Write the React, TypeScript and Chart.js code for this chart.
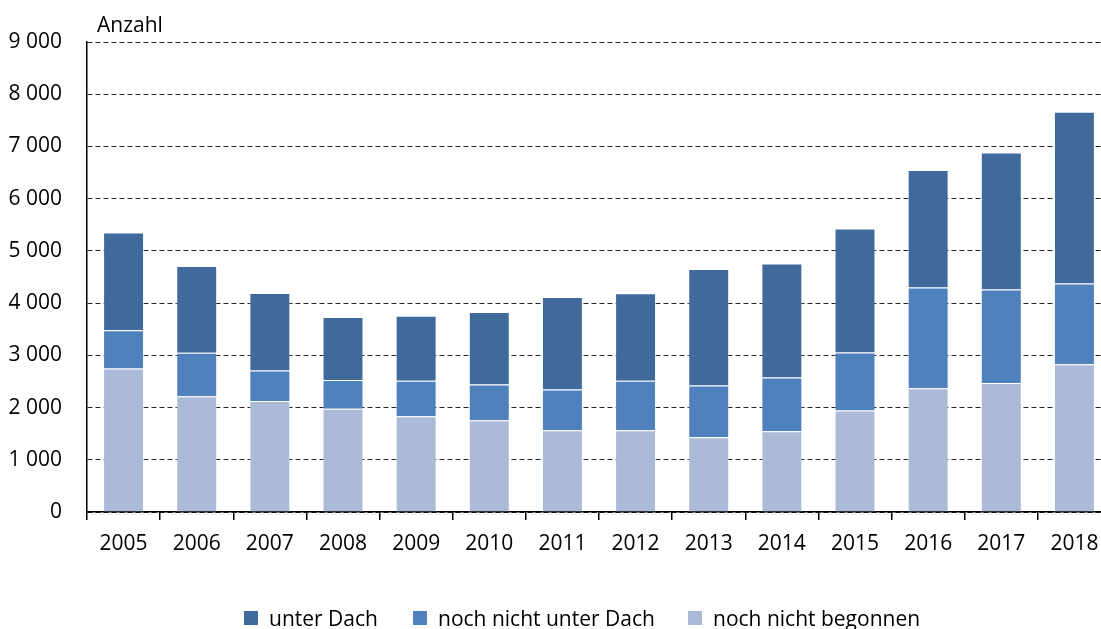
import React, { useEffect, useRef } from "react";
import { Chart, registerables } from "chart.js";

Chart.register(...registerables);

const years = ["2005", "2006", "2007", "2008", "2009", "2010", "2011", "2012", "2013", "2014", "2015", "2016", "2017", "2018"];
const nochNichtBegonnen = [2750, 2215, 2125, 1975, 1835, 1755, 1565, 1565, 1430, 1545, 1945, 2370, 2470, 2830];
const nochNichtUnterDach = [730, 835, 585, 555, 680, 685, 780, 950, 990, 1030, 1110, 1930, 1790, 1545];
const unterDach = [1870, 1660, 1485, 1205, 1245, 1390, 1770, 1675, 2235, 2185, 2375, 2250, 2625, 3290];
const yTicks = [0, 1000, 2000, 3000, 4000, 5000, 6000, 7000, 8000, 9000];

const COLORS = {
  unterDach: "#406a9b",
  nochNichtUnterDach: "#4f81bd",
  nochNichtBegonnen: "#abbad7",
};

const FONT = "'Open Sans', 'Noto Sans', sans-serif";

const legendItems = [
  { label: "unter Dach", color: COLORS.unterDach, left: 244 },
  { label: "noch nicht unter Dach", color: COLORS.nochNichtUnterDach, left: 413 },
  { label: "noch nicht begonnen", color: COLORS.nochNichtBegonnen, left: 688 },
];

const fmt = (v: number) => String(v).replace(/\B(?=(\d{3})+(?!\d))/g, " ");

export default function App() {
  const ref = useRef<HTMLCanvasElement | null>(null);

  useEffect(() => {
    if (!ref.current) return;
    const titlePlugin = {
      id: "anzahl",
      afterDraw(chart: any) {
        const { ctx, chartArea } = chart;
        ctx.save();
        ctx.font = `21px ${FONT}`;
        ctx.fillStyle = "#000";
        ctx.textAlign = "left";
        ctx.textBaseline = "alphabetic";
        ctx.fillText("Anzahl", chartArea.left + 10, chartArea.top - 10);
        ctx.restore();
      },
    };
    const chart = new Chart(ref.current, {
      type: "bar",
      data: {
        labels: years,
        datasets: [
          {
            label: "noch nicht begonnen",
            data: nochNichtBegonnen,
            backgroundColor: COLORS.nochNichtBegonnen,
            borderColor: "rgba(255,255,255,0.35)",
            borderWidth: 1,
          },
          {
            label: "noch nicht unter Dach",
            data: nochNichtUnterDach,
            backgroundColor: COLORS.nochNichtUnterDach,
            borderColor: "rgba(255,255,255,0.35)",
            borderWidth: 1,
          },
          {
            label: "unter Dach",
            data: unterDach,
            backgroundColor: COLORS.unterDach,
            borderColor: "rgba(255,255,255,0.35)",
            borderWidth: 1,
          },
        ],
      },
      options: {
        responsive: false,
        animation: false,
        layout: { padding: { left: 0, right: 4, top: 42, bottom: 0 } },
        datasets: { bar: { categoryPercentage: 1, barPercentage: 0.56 } },
        plugins: { legend: { display: false }, tooltip: { enabled: false } },
        scales: {
          x: {
            stacked: true,
            grid: {
              display: true,
              drawOnChartArea: false,
              drawTicks: true,
              tickLength: 8,
              color: "#000",
              lineWidth: 1.5,
              offset: true,
            },
            border: { display: true, color: "#000", width: 1.5 },
            ticks: { color: "#000", font: { family: FONT, size: 21 }, padding: 11, maxRotation: 0, autoSkip: false },
            afterFit: (s: any) => {
              s.height = 117;
            },
          },
          y: {
            stacked: true,
            min: 0,
            max: 9000,
            afterBuildTicks: (s: any) => {
              s.ticks = yTicks.map((v) => ({ value: v }));
            },
            grid: { color: "#222", lineWidth: 1, drawTicks: false },
            border: { display: true, color: "#000", width: 1.5, dash: [5, 3] },
            ticks: {
              color: "#000",
              font: { family: FONT, size: 21 },
              padding: 25,
              callback: (v: any) => fmt(Number(v)),
            },
            afterFit: (s: any) => {
              s.width = 87;
            },
          },
        },
      },
      plugins: [titlePlugin],
    });
    return () => chart.destroy();
  }, []);

  return (
    <div style={{ position: "fixed", left: 0, top: 0, width: 1101, height: 629, overflow: "hidden", background: "#fff" }}>
      <canvas ref={ref} width={1115} height={629} style={{ position: "absolute", left: 0, top: 0, width: 1115, height: 629 }} />
      {legendItems.map((it) => (
        <div
          key={it.label}
          style={{
            position: "absolute",
            left: it.left,
            top: 604,
            height: 28,
            display: "flex",
            alignItems: "center",
            fontFamily: FONT,
            fontSize: 21,
            color: "#000",
            whiteSpace: "nowrap",
          }}
        >
          <span style={{ display: "inline-block", width: 14, height: 14, background: it.color, marginRight: 11 }} />
          <span>{it.label}</span>
        </div>
      ))}
    </div>
  );
}
